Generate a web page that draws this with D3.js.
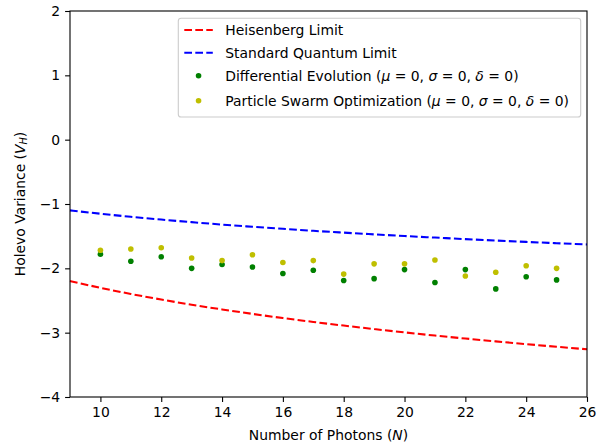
<!DOCTYPE html>
<html>
<head>
<meta charset="utf-8">
<script src="https://cdn.jsdelivr.net/npm/d3@7"></script>
<style>
  html, body { margin: 0; padding: 0; background: #fff; }
  svg { display: block; font-family: "DejaVu Sans", sans-serif; }
</style>
</head>
<body>
<svg id="chart" width="613" height="446"></svg>
<script>
// Photon numbers for the theoretical limit curves
const limitN = [9, 10, 11, 12, 13, 14, 15, 16, 17, 18, 19, 20, 21, 22, 23, 24, 25, 26];
// Heisenberg limit (log scale of variance)
const heisenberg = [-2.197, -2.303, -2.398, -2.485, -2.565, -2.639, -2.708, -2.773, -2.833,
                    -2.890, -2.944, -2.996, -3.045, -3.091, -3.135, -3.178, -3.219, -3.258];
// Standard quantum limit
const sql = [-1.099, -1.151, -1.199, -1.242, -1.282, -1.320, -1.354, -1.386, -1.417,
             -1.445, -1.472, -1.498, -1.522, -1.546, -1.568, -1.589, -1.609, -1.629];

// Photon numbers of the optimisation runs
const runN = [10, 11, 12, 13, 14, 15, 16, 17, 18, 19, 20, 21, 22, 23, 24, 25];
// Differential Evolution results
const deValues = [-1.78, -1.89, -1.82, -2.00, -1.94, -1.98, -2.08, -2.03,
                  -2.19, -2.16, -2.02, -2.22, -2.02, -2.32, -2.13, -2.18];
// Particle Swarm Optimization results
const psoValues = [-1.72, -1.70, -1.68, -1.84, -1.88, -1.79, -1.91, -1.88,
                   -2.09, -1.93, -1.93, -1.87, -2.12, -2.06, -1.96, -2.00];

const xTicks = [10, 12, 14, 16, 18, 20, 22, 24, 26];
const yTicks = [-4, -3, -2, -1, 0, 1, 2];

const svg = d3.select("#chart");
const m = { left: 70, right: 587, top: 11, bottom: 397 };
const fs = 13.9;

const x = d3.scaleLinear().domain([9, 26]).range([m.left, m.right]);
const y = d3.scaleLinear().domain([-4, 2]).range([m.bottom, m.top]);

// Axes
const fmt = d => String(d).replace("-", "\u2212");
const xAxis = svg.append("g")
  .attr("transform", `translate(0,${m.bottom})`)
  .call(d3.axisBottom(x).tickValues(xTicks).tickFormat(fmt).tickSize(4.9).tickPadding(4.9));
const yAxis = svg.append("g")
  .attr("transform", `translate(${m.left},0)`)
  .call(d3.axisLeft(y).tickValues(yTicks).tickFormat(fmt).tickSize(4.9).tickPadding(4.9));
[xAxis, yAxis].forEach(a => {
  a.select(".domain").remove();
  a.selectAll("line").attr("stroke", "#000").attr("stroke-width", 1.1);
  a.selectAll("text").attr("fill", "#000").style("font-size", fs + "px")
    .style("font-family", "DejaVu Sans");
});

// Limit curves
const line = d3.line().x(d => x(d[0])).y(d => y(d[1])).curve(d3.curveMonotoneX);
svg.append("path")
  .datum(limitN.map((n, i) => [n, heisenberg[i]]))
  .attr("d", line).attr("fill", "none").attr("stroke", "#ff0000")
  .attr("stroke-width", 2.08).attr("stroke-dasharray", "7.7,3.3");
svg.append("path")
  .datum(limitN.map((n, i) => [n, sql[i]]))
  .attr("d", line).attr("fill", "none").attr("stroke", "#0000ff")
  .attr("stroke-width", 2.08).attr("stroke-dasharray", "7.7,3.3");

// Scatter points
const green = "#008000", yellow = "#bfbf00";
svg.append("g").selectAll("circle")
  .data(runN.map((n, i) => [n, deValues[i]]))
  .join("circle")
  .attr("cx", d => x(d[0])).attr("cy", d => y(d[1])).attr("r", 2.8).attr("fill", green);
svg.append("g").selectAll("circle")
  .data(runN.map((n, i) => [n, psoValues[i]]))
  .join("circle")
  .attr("cx", d => x(d[0])).attr("cy", d => y(d[1])).attr("r", 2.8).attr("fill", yellow);

// Frame
svg.append("rect")
  .attr("x", m.left).attr("y", m.top)
  .attr("width", m.right - m.left).attr("height", m.bottom - m.top)
  .attr("fill", "none").attr("stroke", "#000").attr("stroke-width", 1.1);

// Axis labels
svg.append("text")
  .attr("x", (m.left + m.right) / 2).attr("y", 440)
  .attr("text-anchor", "middle").style("font-size", fs + "px")
  .call(t => {
    t.append("tspan").text("Number of Photons (");
    t.append("tspan").attr("font-style", "italic").text("N");
    t.append("tspan").text(")");
  });
svg.append("text")
  .attr("transform", `translate(25,${(m.top + m.bottom) / 2}) rotate(-90)`)
  .attr("text-anchor", "middle").style("font-size", fs + "px")
  .call(t => {
    t.append("tspan").text("Holevo Variance (");
    t.append("tspan").attr("font-style", "italic").text("V");
    t.append("tspan").attr("font-style", "italic").attr("font-size", "0.7em")
      .attr("dy", "0.25em").text("H");
    t.append("tspan").attr("dy", "-0.18em").text(")");
  });

// Legend
const lg = { x: 178.3, y: 18.3, w: 402.4, h: 98.7 };
const legend = svg.append("g");
legend.append("rect")
  .attr("x", lg.x).attr("y", lg.y).attr("width", lg.w).attr("height", lg.h)
  .attr("rx", 2.8).attr("fill", "#fff").attr("fill-opacity", 0.8)
  .attr("stroke", "#cccccc").attr("stroke-width", 1.1);

const rowY = [11.7, 34.4, 57.4, 82.4];
const hx0 = lg.x + 6, hx1 = hx0 + 28.5, tx = hx1 + 12.5;
const entries = [
  { type: "line", color: "#ff0000", label: [["Heisenberg Limit"]] },
  { type: "line", color: "#0000ff", label: [["Standard Quantum Limit"]] },
  { type: "dot", color: green, label: [["Differential Evolution ("], ["\u03bc", 1], [" = 0, "], ["\u03c3", 1], [" = 0, "], ["\u03b4", 1], [" = 0)"]] },
  { type: "dot", color: yellow, label: [["Particle Swarm Optimization ("], ["\u03bc", 1], [" = 0, "], ["\u03c3", 1], [" = 0, "], ["\u03b4", 1], [" = 0)"]] }
];
entries.forEach((e, i) => {
  const cy = lg.y + rowY[i];
  if (e.type === "line") {
    legend.append("line")
      .attr("x1", hx0).attr("x2", hx1).attr("y1", cy).attr("y2", cy)
      .attr("stroke", e.color).attr("stroke-width", 2.08).attr("stroke-dasharray", "7.7,3.3");
  } else {
    legend.append("circle")
      .attr("cx", (hx0 + hx1) / 2).attr("cy", cy).attr("r", 2.8).attr("fill", e.color);
  }
  const t = legend.append("text")
    .attr("x", tx).attr("y", cy).attr("dy", "0.36em")
    .style("font-size", fs + "px").attr("xml:space", "preserve");
  e.label.forEach(([s, it]) => {
    const sp = t.append("tspan").text(s);
    if (it) sp.attr("font-style", "italic");
  });
});
</script>
</body>
</html>
